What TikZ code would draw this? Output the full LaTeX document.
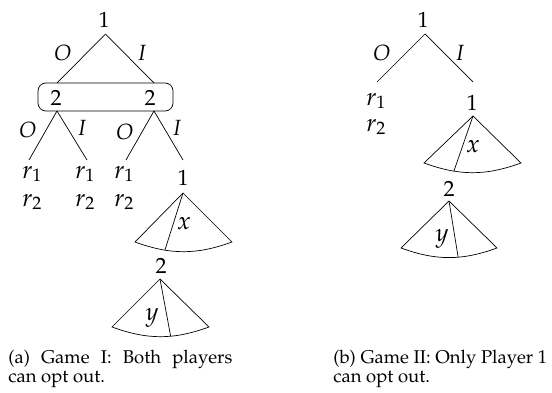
\documentclass[tikz,border=0pt]{standalone}
\usepackage[T1]{fontenc}
\usepackage{mathpazo}
\DeclareMathSizes{22}{22}{16}{12}
\DeclareMathSizes{25}{25}{18}{13}
\newcommand{\treefont}{\fontsize{22}{24}\selectfont}
\newcommand{\varfont}{\fontsize{25}{27}\selectfont}
\newcommand{\capfont}{\fontsize{18.5}{18.5}\selectfont}
% a subgame cone: apex, left corner, right corner, curved base, inner split line
\newcommand{\gamecone}[5]{%
  \draw (#2) -- (#3) to[bend right=20] coordinate[pos=#5] (#1m) (#4) -- cycle;
  \draw (#2) -- (#1m);}
\begin{document}
\begin{tikzpicture}[x=1pt,y=-1pt,line width=0.7pt,
  lbl/.style={inner sep=0pt,font=\treefont},
  var/.style={inner sep=0pt,font=\varfont},
  caption/.style={inner sep=0pt,font=\capfont,align=left,anchor=base west}]
\useasboundingbox (0,0) rectangle (552,393);

% ---------- Game I ----------
\node[lbl] (a1) at (104,19.5) {1};
\coordinate (a1t) at (105.5,34);
\node[draw,rounded corners=8pt,minimum width=135pt,minimum height=28pt,inner sep=0pt,line width=0.7pt] (info) at (105.5,97) {};
\node[lbl] (a2l) at (56,98) {2};
\node[lbl] (a2r) at (150,98) {2};
\coordinate (infoL) at (57,83);
\coordinate (infoR) at (154,83);
\coordinate (infoLb) at (57,111);
\coordinate (infoRb) at (154,111);
\draw (a1t) -- (infoL);
\draw (a1t) -- (infoR);
\node[lbl] at (63,53) {$O$};
\node[lbl] at (142,53) {$I$};

\coordinate (llO) at (29,160);
\coordinate (llI) at (87,160);
\coordinate (lrO) at (126,160);
\coordinate (lrI) at (183,160);
\draw (infoLb) -- (llO);
\draw (infoLb) -- (llI);
\draw (infoRb) -- (lrO);
\draw (infoRb) -- (lrI);
\node[lbl] at (28,130) {$O$};
\node[lbl] at (82,128) {$I$};
\node[lbl] at (125,132) {$O$};
\node[lbl] at (177,128) {$I$};

\node[var] (pa1) at (32,174) {$r_1$};
\node[var] (pa2) at (32,202) {$r_2$};
\node[var] (pb1) at (85,174) {$r_1$};
\node[var] (pb2) at (85,202) {$r_2$};
\node[var] (pc1) at (124,174) {$r_1$};
\node[var] (pc2) at (124,202) {$r_2$};

\node[lbl] (a3) at (183,178) {1};
\coordinate (ax) at (183,193);
\coordinate (axl) at (135,242);
\coordinate (axr) at (232,242);
\gamecone{ax}{ax}{axl}{axr}{0.3}
\node[var] at (184,224) {$x$};

\node[lbl] (a4) at (161,266) {2};
\coordinate (ay) at (160,279);
\coordinate (ayl) at (112,327);
\coordinate (ayr) at (209,327);
\gamecone{ay}{ay}{ayl}{ayr}{0.61}
\node[var] at (152,318) {$y$};

\node[caption] (capa) at (8,382) {\makebox[224pt][s]{(a) Game I: Both players}\\can opt out.};

% ---------- Game II ----------
\node[lbl] (b1) at (423,20) {1};
\coordinate (b1t) at (425,34);
\coordinate (bO) at (377,82);
\coordinate (bI) at (473,82);
\draw (b1t) -- (bO);
\draw (b1t) -- (bI);
\node[lbl] at (382,53) {$O$};
\node[lbl] at (460,53) {$I$};
\node[var] (q1) at (376,101) {$r_1$};
\node[var] (q2) at (376,127) {$r_2$};

\node[lbl] (b3) at (472,103) {1};
\coordinate (bx) at (473,116);
\coordinate (bxl) at (424,163);
\coordinate (bxr) at (521,163);
\gamecone{bx}{bx}{bxl}{bxr}{0.3}
\node[var] at (473,147) {$x$};

\node[lbl] (b4) at (449,189) {2};
\coordinate (by) at (449,201);
\coordinate (byl) at (401,248);
\coordinate (byr) at (497,248);
\gamecone{by}{by}{byl}{byr}{0.6}
\node[var] at (442,239) {$y$};

\node[caption] (capb) at (333,382) {(b) Game II: Only Player 1\\can opt out.};
\end{tikzpicture}
\end{document}
